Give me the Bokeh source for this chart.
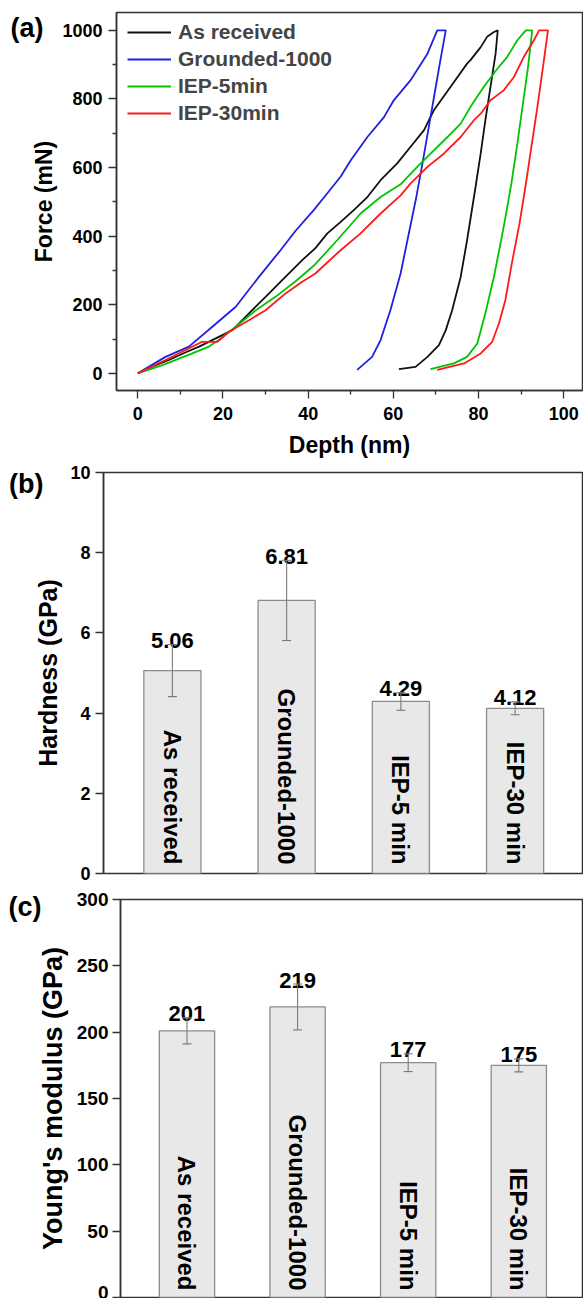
import math
from bokeh.plotting import figure
from bokeh.models import (ColumnDataSource, Range1d, FixedTicker, Legend, LegendItem,
                          Whisker, TeeHead, LinearAxis, CustomJSTickFormatter)
from bokeh.layouts import column
from bokeh.embed import file_html
from bokeh.resources import INLINE
from bokeh.core.properties import value

FONT = "Liberation Sans"

# ---------------- (a) load-depth curves ----------------
as_received_depth = [0, 3.5, 7.3, 11.0, 14.4, 18.3, 22.2, 26.1, 30.0, 33.9, 38.6, 41.7, 44.5, 47.5,
                     50.7, 53.9, 57.0, 60.9, 64.0, 67.2, 69.5, 73.4, 77.3, 78.1, 80.5, 82.0, 83.6,
                     84.5, 84.0, 82.8, 81.6, 80.5, 79.3, 77.3, 75.8, 73.8, 72.3, 70.7, 68.0, 65.2, 61.3]
as_received_force = [0, 20, 39, 60, 78, 102, 126, 175, 223, 272, 330, 365, 408, 440,
                     476, 514, 563, 612, 660, 709, 767, 835, 903, 913, 951, 981, 995,
                     1000, 932, 835, 738, 641, 544, 388, 281, 184, 126, 82, 48, 19, 12]

grounded_depth = [0, 6.5, 12.0, 17.5, 23.0, 28.1, 33.5, 37.0, 41.3, 44.5, 47.6, 50.0, 53.9, 57.8,
                  60.1, 64.0, 68.0, 70.3, 72.3, 71.0, 69.6, 68.2, 66.8, 65.4, 63.3, 61.7, 59.3,
                  57.0, 55.0, 51.5]
grounded_force = [0, 48, 78, 136, 194, 276, 359, 415, 476, 525, 573, 621, 689, 747,
                  796, 854, 932, 1000, 1000, 910, 810, 710, 610, 515, 388, 291, 184,
                  97, 48, 10]

iep5_depth = [0, 5.8, 12.8, 16.7, 19.0, 23.0, 27.7, 32.3, 37.2, 41.5, 46.8, 52.3, 57.0, 61.7,
              65.6, 69.5, 72.7, 75.8, 78.1, 81.2, 84.4, 86.7, 89.1, 91.1, 92.6, 91.6, 90.4,
              89.1, 87.7, 86.3, 85.3, 83.6, 81.6, 79.7, 77.3, 74.2, 68.7]
iep5_force = [0, 24, 58, 78, 97, 136, 184, 223, 270, 316, 388, 466, 514, 551,
              602, 650, 689, 728, 777, 835, 888, 922, 971, 1000, 1000, 892, 785,
              669, 553, 454, 388, 281, 175, 87, 48, 29, 12]

iep30_depth = [0, 6.5, 10.4, 15.1, 18.7, 21.4, 26.1, 30.0, 34.7, 38.6, 41.7, 46.8, 52.3, 57.0,
               61.7, 64.0, 68.0, 71.9, 75.8, 78.9, 80.5, 82.8, 85.9, 88.3, 90.6, 93.0, 94.2,
               96.3, 95.2, 93.9, 92.5, 91.1, 89.6, 87.8, 86.3, 84.8, 83.2, 80.5, 76.6, 70.3]
iep30_force = [0, 39, 63, 92, 92, 121, 155, 184, 233, 267, 291, 350, 408, 466,
               519, 553, 602, 641, 689, 738, 757, 796, 825, 864, 922, 971, 1000,
               1000, 900, 784, 668, 552, 436, 320, 214, 146, 92, 58, 29, 10]

curve_names = ["As received", "Grounded-1000", "IEP-5min", "IEP-30min"]
curve_colors = ["#111111", "#2020e0", "#00c400", "#ff1a1a"]

# ---------------- (b), (c) bars ----------------
samples = ["As received", "Grounded-1000", "IEP-5 min", "IEP-30 min"]
sample_pos = [1, 2, 3, 4]
hardness = [5.06, 6.81, 4.29, 4.12]
hardness_err = [0.65, 1.00, 0.22, 0.16]
modulus = [201, 219, 177, 175]
modulus_err = [9.8, 17.3, 6.7, 4.9]

AX = "#333333"


def style_axis(ax, tick_size, label_size, tick_out, standoff, label_standoff):
    ax.axis_line_color = AX
    ax.axis_line_width = 1.5
    ax.major_tick_line_color = AX
    ax.major_tick_line_width = 1.3
    ax.minor_tick_line_color = AX
    ax.minor_tick_line_width = 1.3
    ax.major_tick_out = tick_out
    ax.major_tick_in = 0
    ax.minor_tick_out = 4
    ax.minor_tick_in = 0
    ax.major_label_text_font = FONT
    ax.major_label_text_font_style = "bold"
    ax.major_label_text_font_size = tick_size
    ax.major_label_text_color = "#000000"
    ax.major_label_standoff = standoff
    ax.axis_label_text_font = FONT
    ax.axis_label_text_font_style = "bold"
    ax.axis_label_text_font_size = label_size
    ax.axis_label_text_color = "#000000"
    ax.axis_label_standoff = label_standoff


def base_fig(height, xr, yr, left, top, bottom):
    p = figure(width=583, height=height, output_backend="svg", toolbar_location=None,
               x_range=xr, y_range=yr, min_border_left=left, min_border_right=1,
               min_border_top=top, min_border_bottom=bottom)
    try:
        p.frame_align = False
    except Exception:
        pass
    p.xgrid.visible = False
    p.ygrid.visible = False
    p.outline_line_color = AX
    p.outline_line_width = 1.5
    p.background_fill_color = "white"
    p.border_fill_color = "white"
    return p


def add_tag(p, text, at, pull):
    # panel letter drawn as the single label of an extra, line-less left axis
    ax = LinearAxis(ticker=FixedTicker(ticks=[at], minor_ticks=[]),
                    formatter=CustomJSTickFormatter(code="return '%s'" % text),
                    axis_line_color=None, major_tick_line_color=None,
                    minor_tick_line_color=None, major_tick_out=0, major_tick_in=0,
                    minor_tick_out=0, minor_tick_in=0, major_label_standoff=-pull,
                    major_label_text_font=FONT, major_label_text_font_style="bold",
                    major_label_text_font_size="27px", major_label_text_color="#000000")
    p.add_layout(ax, "left")


# ---------------- panel (a) ----------------
pa = base_fig(462, Range1d(-5, 104.4), Range1d(-50, 1052), 116, 12, 72)
pa.xaxis.ticker = FixedTicker(ticks=[0, 20, 40, 60, 80, 100], minor_ticks=[10, 30, 50, 70, 90])
pa.yaxis.ticker = FixedTicker(ticks=[0, 200, 400, 600, 800, 1000], minor_ticks=[100, 300, 500, 700, 900])
pa.xaxis.axis_label = "Depth (nm)"
pa.yaxis.axis_label = "Force (mN)"
style_axis(pa.xaxis[0], "18px", "23px", 8, 8, 9)
style_axis(pa.yaxis[0], "18px", "23px", 8, 6, 2)

series = [(as_received_depth, as_received_force), (grounded_depth, grounded_force),
          (iep5_depth, iep5_force), (iep30_depth, iep30_force)]
items = []
for (d, f), name, col in zip(series, curve_names, curve_colors):
    r = pa.line(d, f, line_color=col, line_width=1.8)
    items.append(LegendItem(label=name, renderers=[r]))

leg = Legend(items=items, location=(11, 264), border_line_alpha=0, background_fill_alpha=0,
             padding=0, margin=0, spacing=1, glyph_width=44, glyph_height=26, label_height=26,
             label_standoff=7, label_text_font=FONT, label_text_font_style="bold",
             label_text_font_size="21px", label_text_baseline="middle")
pa.add_layout(leg)
add_tag(pa, "(a)", 1006, 15)


# ---------------- bar panels ----------------
def bar_panel(height, xr, yr, left, top, bottom, vals, errs, fmt, ticks, ylabel,
              tick_size, label_size, tick_out, standoff, label_standoff, tag, tag_at, tag_pull,
              inner_offset):
    p = base_fig(height, xr, yr, left, top, bottom)
    p.xaxis.visible = False
    p.yaxis.ticker = FixedTicker(ticks=ticks, minor_ticks=[])
    p.yaxis.axis_label = ylabel
    style_axis(p.yaxis[0], tick_size, label_size, tick_out, standoff, label_standoff)
    p.yaxis.minor_tick_line_color = None
    p.vbar(x=sample_pos, top=vals, width=0.5, fill_color="#e8e8e8",
           line_color="#8c8c8c", line_width=1.3)
    upper = [v + e for v, e in zip(vals, errs)]
    lower = [v - e for v, e in zip(vals, errs)]
    src = ColumnDataSource(dict(x=sample_pos, upper=upper, lower=lower,
                                lab=[fmt.format(v) for v in vals]))
    p.add_layout(Whisker(base="x", upper="upper", lower="lower", source=src, level="overlay",
                         line_color="#7a7a7a", line_width=1.1,
                         upper_head=TeeHead(size=9, line_color="#7a7a7a", line_width=1.1),
                         lower_head=TeeHead(size=9, line_color="#7a7a7a", line_width=1.1)))
    p.text(x="x", y="upper", text="lab", source=src, text_align="center",
           text_baseline="alphabetic", y_offset=-4, text_font=value(FONT),
           text_font_style="bold", text_font_size="22px", text_color="#000000")
    p.text(x=sample_pos, y=[0] * len(samples), text=samples, angle=-math.pi / 2,
           text_align="right", text_baseline="middle", y_offset=inner_offset,
           text_font=value(FONT), text_font_style="bold", text_font_size="24px",
           text_color="#000000")
    add_tag(p, tag, tag_at, tag_pull)
    return p


pb = bar_panel(424, Range1d(0.397, 4.59), Range1d(0, 10), 103, 10, 13,
               hardness, hardness_err, "{:.2f}", [0, 2, 4, 6, 8, 10], "Hardness (GPa)",
               "18px", "25px", 8, 5, 5, "(b)", 9.72, 12, -9)

pc = bar_panel(412, Range1d(0.399, 4.576), Range1d(0, 300), 120, 13, 1,
               modulus, modulus_err, "{:.0f}", [0, 50, 100, 150, 200, 250, 300],
               "Young's modulus (GPa)", "19px", "27px", 8, 4, 6, "(c)", 294.2, 7, -7)

layout = column(pa, pb, pc, spacing=0)
open("out.html", "w").write(file_html(layout, INLINE))
